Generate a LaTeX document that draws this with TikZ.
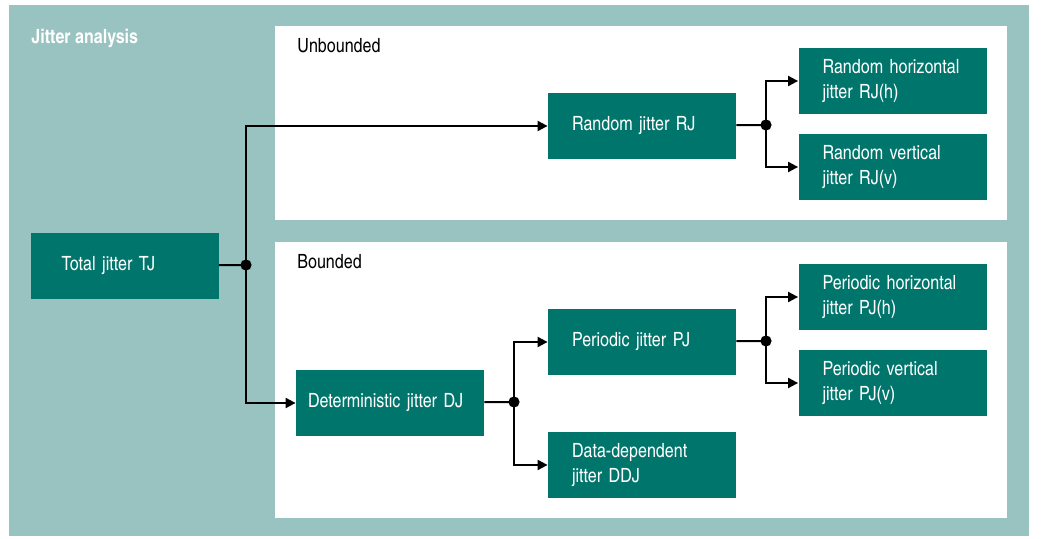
\documentclass[tikz,border=0pt]{standalone}
\usepackage{fontspec}
\setmainfont{TeX Gyre Heros Cn}
\usetikzlibrary{arrows.meta}
\hyphenpenalty=10000

\definecolor{panelteal}{RGB}{152,195,193}
\definecolor{boxteal}{RGB}{0,117,108}

\tikzset{
    jbox/.style={fill=boxteal, text=white, minimum width=94pt, minimum height=33pt,
        inner xsep=12pt, text width=70pt, align=left,
        font=\fontsize{9.8}{12.5}\selectfont},
    label/.style={anchor=base west, inner sep=0pt, font=\fontsize{9.8}{12.5}\selectfont},
    link/.style={line width=1pt},
    arr/.style={link, -{Triangle[length=5pt,width=5pt]}},
}

\begin{document}
\begin{tikzpicture}[x=0.5pt, y=-0.5pt]
    \useasboundingbox (0, 0) rectangle (1046, 539);
    % panels
    \fill[panelteal] (9, 5) rectangle (1029, 536);
    \fill[white] (275, 26) rectangle (1007, 220);
    \fill[white] (275, 242) rectangle (1007, 518);
    \node[label, text=white, font=\fontsize{9.8}{12.5}\selectfont\bfseries] (title) at (31, 44) {Jitter analysis};
    \node[label] (unb) at (297, 53) {Unbounded};
    \node[label] (bnd) at (297, 269) {Bounded};

    % junctions
    \coordinate (J1) at (246, 265);
    \coordinate (J2) at (766, 125);
    \coordinate (J3) at (514, 402);
    \coordinate (J4) at (766, 341);

    % boxes
    \node[jbox, inner xsep=15.5pt, text width=63pt] (tj) at (124.5, 266) {Total jitter TJ};
    \node[jbox] (rj) at (642, 126) {Random jitter RJ};
    \node[jbox] (rjh) at (892.5, 81) {Random horizontal\\jitter RJ(h)};
    \node[jbox] (rjv) at (892.5, 167) {Random vertical\\jitter RJ(v)};
    \node[jbox, inner xsep=6pt, text width=82pt] (dj) at (390, 403) {Deterministic jitter DJ};
    \node[jbox] (pj) at (642, 342) {Periodic jitter PJ};
    \node[jbox] (ddj) at (642, 465) {Data-dependent\\jitter DDJ};
    \node[jbox] (pjh) at (892.5, 297) {Periodic horizontal\\jitter PJ(h)};
    \node[jbox] (pjv) at (892.5, 383) {Periodic vertical\\jitter PJ(v)};

    % connectors
    \draw[link] (tj) -- (J1);
    \draw[arr] (J1) |- (rj);
    \draw[arr] (J1) |- (dj);
    \draw[link] (rj) -- (J2);
    \draw[arr] (J2) |- (rjh);
    \draw[arr] (J2) |- (rjv);
    \draw[link] (dj) -- (J3);
    \draw[arr] (J3) |- (pj);
    \draw[arr] (J3) |- (ddj);
    \draw[link] (pj) -- (J4);
    \draw[arr] (J4) |- (pjh);
    \draw[arr] (J4) |- (pjv);
    \foreach \j in {J1, J2, J3, J4}
        \fill (\j) circle (2.8pt);
\end{tikzpicture}
\end{document}
